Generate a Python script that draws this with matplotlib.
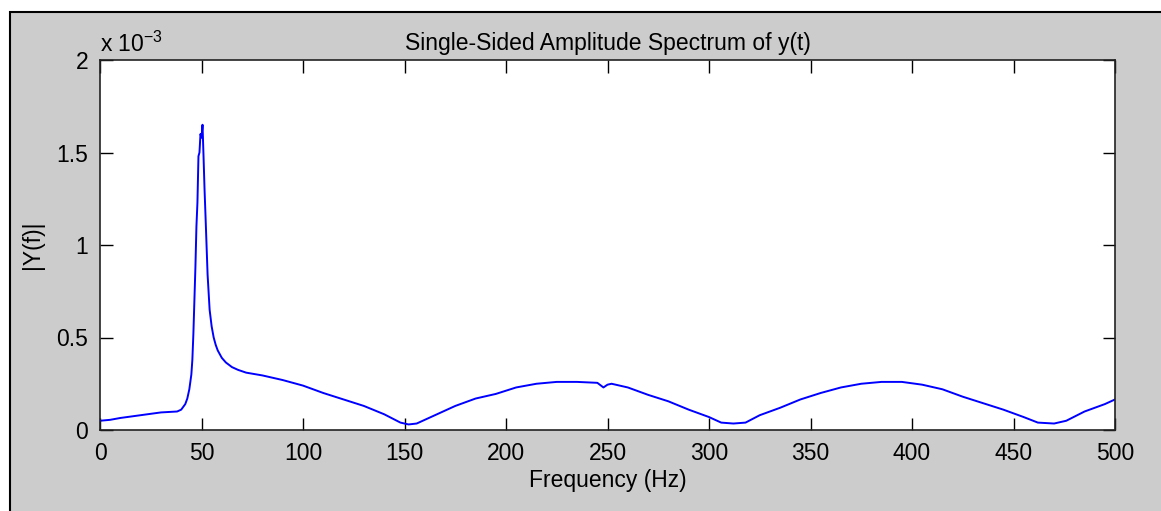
import matplotlib.pyplot as plt
from matplotlib.patches import Rectangle
from matplotlib.ticker import FuncFormatter

# frequency axis (Hz) and single sided amplitude (in units of 1e-3)
freq = [0, 5, 10, 20, 30, 38, 40, 42, 43, 44, 45, 45.5, 46, 46.5, 47, 47.5,
        48, 48.5, 49, 49.5, 50, 50.5, 51, 51.5, 52, 53, 54, 55, 56, 57, 58,
        60, 62, 65, 68, 72, 80, 90, 100, 110, 120, 130, 140, 148, 152, 156,
        165, 175, 185, 195, 205, 215, 225, 235, 245, 248, 250, 252, 260, 270,
        280, 290, 300, 306, 312, 318, 325, 335, 345, 355, 365, 375, 385, 395,
        405, 415, 425, 435, 445, 455, 462, 470, 476, 485, 495, 500]
amp_milli = [0.05, 0.055, 0.065, 0.08, 0.095, 0.10, 0.11, 0.14, 0.17, 0.22,
             0.30, 0.38, 0.52, 0.70, 0.88, 1.10, 1.23, 1.48, 1.50, 1.60, 1.58,
             1.65, 1.48, 1.30, 1.15, 0.84, 0.65, 0.56, 0.50, 0.46, 0.43, 0.39,
             0.365, 0.34, 0.325, 0.31, 0.295, 0.27, 0.24, 0.20, 0.165, 0.13,
             0.085, 0.04, 0.03, 0.035, 0.08, 0.13, 0.17, 0.195, 0.23, 0.25,
             0.26, 0.26, 0.255, 0.23, 0.245, 0.25, 0.23, 0.19, 0.155, 0.11,
             0.07, 0.04, 0.035, 0.04, 0.08, 0.12, 0.165, 0.20, 0.23, 0.25,
             0.26, 0.26, 0.245, 0.22, 0.18, 0.145, 0.11, 0.07, 0.04, 0.035,
             0.05, 0.10, 0.14, 0.165]

x_ticks = list(range(0, 501, 50))
y_ticks = [0, 0.5e-3, 1e-3, 1.5e-3, 2e-3]

GRAY = '#cccccc'
FONT = 'Liberation Sans'
SIZE = 16.5


def setupFigure():
    fig = plt.figure(figsize=(11.61, 5.11), dpi=100, facecolor='white')
    # matlab style grey window with a black border (cropped on right/bottom)
    frame = Rectangle((10 / 1161, -0.5), 2.0, 1.5 - 12 / 511,
                      transform=fig.transFigure, facecolor=GRAY,
                      edgecolor='black', linewidth=1.5, zorder=-10)
    fig.add_artist(frame)
    ax = fig.add_axes([100 / 1161, 1 - 430 / 511, 1015 / 1161, 370 / 511])
    ax.set_zorder(5)
    return fig, ax


if __name__ == '__main__':
    plt.rcParams['font.family'] = FONT
    plt.rcParams['mathtext.fontset'] = 'custom'
    plt.rcParams['mathtext.rm'] = FONT
    fig, ax = setupFigure()

    amp = [a * 1e-3 for a in amp_milli]
    ax.plot(freq, amp, color='#0000ff', linewidth=1.4)

    ax.set_xlim(0, 500)
    ax.set_ylim(0, 2e-3)
    ax.set_xticks(x_ticks)
    ax.set_yticks(y_ticks)
    ax.yaxis.set_major_formatter(FuncFormatter(lambda v, p: f'{v * 1e3:g}'))
    ax.tick_params(direction='in', length=9, width=1, top=True, right=True,
                   labelsize=SIZE, pad=8.5, colors='black')
    for spine in ax.spines.values():
        spine.set_linewidth(1.2)
        spine.set_color('#222222')

    ax.text(0, 1.008, r'x 10$^{\mathregular{-3}}$', transform=ax.transAxes,
            fontsize=SIZE, ha='left', va='bottom')
    ax.set_title('Single-Sided Amplitude Spectrum of y(t)', fontsize=SIZE, pad=7)
    ax.set_xlabel('Frequency (Hz)', fontsize=SIZE, labelpad=3)
    ax.set_ylabel('|Y(f)|', fontsize=SIZE, labelpad=9)

    fig.savefig('out.png', dpi=100, facecolor=fig.get_facecolor())
